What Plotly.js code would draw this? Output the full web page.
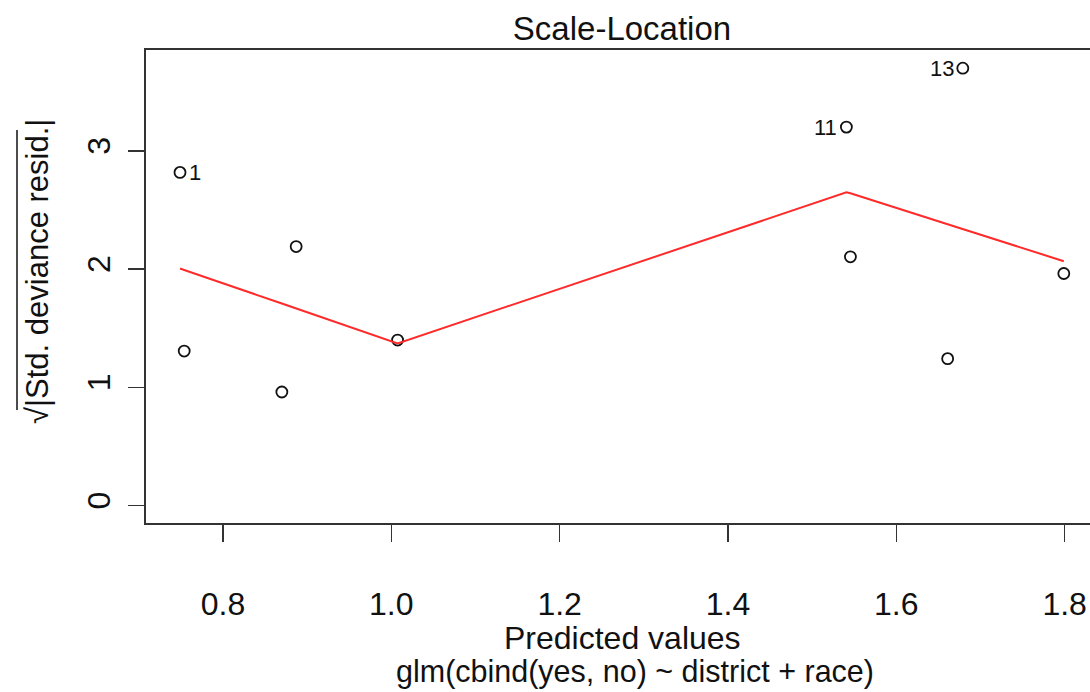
<!DOCTYPE html>
<html>
<head>
<meta charset="utf-8">
<script src="https://cdn.plot.ly/plotly-3.0.1.min.js"></script>
<style>
html, body { margin: 0; padding: 0; overflow: hidden; background: #fff; }
#chart { width: 1110px; height: 692px; }
</style>
</head>
<body>
<div id="chart"></div>
<script>
// Data (Scale-Location diagnostic plot)
const predicted = [0.749, 0.754, 0.870, 0.887, 1.0075, 1.5407, 1.5455, 1.661, 1.679, 1.799];
const sqrtStdResid = [2.817, 1.306, 0.960, 2.190, 1.399, 3.200, 2.103, 1.242, 3.698, 1.962];
const smoothX = [0.749, 0.754, 0.870, 0.887, 1.0075, 1.5407, 1.5455, 1.661, 1.679, 1.799];
const smoothY = [2.004, 1.992, 1.708, 1.666, 1.371, 2.648, 2.640, 2.378, 2.337, 2.066];
const labelX = [0.749, 1.5407, 1.679];
const labelY = [2.817, 3.200, 3.698];
const labelText = ["1", "11", "13"];
const labelSide = ["right", "left", "left"];
const xTicks = [0.8, 1.0, 1.2, 1.4, 1.6, 1.8];
const xTickText = ["0.8", "1.0", "1.2", "1.4", "1.6", "1.8"];
const yTicks = [0, 1, 2, 3];
const yTickText = ["0", "1", "2", "3"];

const FONT = "Liberation Sans, Arial, Helvetica, sans-serif";
const FS = 32;
const INK = "#111";

const traces = [
  {
    x: predicted, y: sqrtStdResid, type: "scatter", mode: "markers",
    marker: { symbol: "circle-open", size: 11, color: INK, line: { width: 1.8, color: INK } },
    hoverinfo: "x+y", showlegend: false
  },
  {
    x: smoothX, y: smoothY, type: "scatter", mode: "lines",
    line: { color: "#ff2a2a", width: 2 }, showlegend: false
  }
];

const W = 1110, H = 692, ML = 146, MR = 10, MT = 50, MB = 169;
const PW = W - ML - MR, PH = H - MT - MB;
const px = (p) => (p - ML) / PW;
const py = (p) => (H - MB - p) / PH;

const pointLabels = labelText.map((t, i) => ({
  text: t, x: labelX[i], y: labelY[i], xref: "x", yref: "y",
  xanchor: labelSide[i] === "right" ? "left" : "right", yanchor: "middle",
  xshift: labelSide[i] === "right" ? 7 : -7, showarrow: false,
  font: { family: FONT, size: 22, color: INK }
}));

const layout = {
  width: W, height: H,
  margin: { l: ML, r: MR, t: MT, b: MB, pad: 0 },
  paper_bgcolor: "#fff", plot_bgcolor: "#fff",
  font: { family: FONT, size: FS, color: INK },
  title: {
    text: "Scale-Location", font: { family: FONT, size: 33, color: INK },
    x: px(622), xref: "paper", xanchor: "center",
    y: 1 - 28 / H, yref: "container", yanchor: "middle"
  },
  xaxis: {
    range: [0.7086, 1.842], tickvals: xTicks, ticktext: xTickText,
    ticks: "outside", ticklen: 17, tickwidth: 1.5, tickcolor: "#333",
    showline: true, mirror: true, linecolor: "#333", linewidth: 2,
    showgrid: false, zeroline: false, ticklabelstandoff: 35,
    tickfont: { family: FONT, size: FS, color: INK }, fixedrange: true
  },
  yaxis: {
    range: [-0.148, 3.852], tickvals: yTicks, ticktext: yTickText,
    ticks: "outside", ticklen: 16, tickwidth: 1.5, tickcolor: "#333",
    showline: true, mirror: true, linecolor: "#333", linewidth: 2,
    showgrid: false, zeroline: false, tickangle: -90, ticklabelstandoff: 5,
    tickfont: { family: FONT, size: FS, color: INK }, fixedrange: true
  },
  shapes: [
    { type: "line", xref: "paper", yref: "paper", x0: px(17), x1: px(17), y0: py(130), y1: py(410),
      line: { color: INK, width: 1.5 } }
  ],
  annotations: pointLabels.concat([
    { text: "Predicted values", xref: "paper", yref: "paper", x: px(622), y: py(638),
      xanchor: "center", yanchor: "middle", showarrow: false, font: { family: FONT, size: 32, color: INK } },
    { text: "glm(cbind(yes, no) ~ district + race)", xref: "paper", yref: "paper", x: px(635), y: py(671),
      xanchor: "center", yanchor: "middle", showarrow: false, font: { family: FONT, size: 30.5, color: INK } },
    { text: "\u221A|Std. deviance resid.|", xref: "paper", yref: "paper", x: px(37), y: py(272),
      xanchor: "center", yanchor: "middle", textangle: -90, showarrow: false, font: { family: FONT, size: 31, color: INK } }
  ])
};

Plotly.newPlot("chart", traces, layout, { displayModeBar: false, staticPlot: true });
</script>
</body>
</html>
